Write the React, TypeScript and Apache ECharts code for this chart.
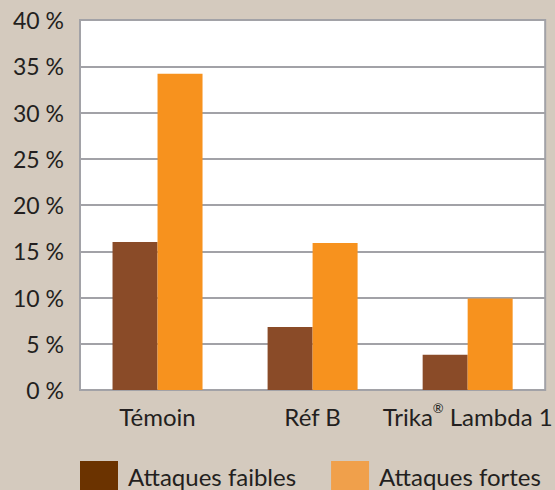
import React, { useEffect, useRef } from "react";
import * as echarts from "echarts";

const categories = ["Témoin", "Réf B", "Trika® Lambda 1"];
const faibles = [16, 6.8, 3.8];
const fortes = [34.2, 15.9, 9.9];
const seriesNames = ["Attaques faibles", "Attaques fortes"];
const yTicks = { min: 0, max: 40, interval: 5 };

const FONT = "Lato, 'Open Sans', sans-serif";
const TEXT = "#231f20";

export default function App() {
  const ref = useRef<HTMLDivElement>(null);
  useEffect(() => {
    if (!ref.current) return;
    const chart = echarts.init(ref.current, null, { renderer: "svg" });
    chart.setOption({
      animation: false,
      backgroundColor: "#d4cabe",
      textStyle: { fontFamily: FONT, color: TEXT },
      grid: {
        left: 80,
        top: 20,
        right: 6,
        bottom: 100,
        show: true,
        backgroundColor: "#ffffff",
        borderColor: "#a2a2a7",
        borderWidth: 2,
      },
      legend: {
        left: 80,
        top: 461,
        padding: 0,
        icon: "rect",
        itemWidth: 38,
        itemHeight: 30,
        itemGap: 35,
        textStyle: { fontSize: 24, color: TEXT, fontFamily: FONT, padding: [0, 0, 0, 5] },
        data: [
          { name: seriesNames[0], itemStyle: { color: "#6b3300" } },
          { name: seriesNames[1], itemStyle: { color: "#f0a04b" } },
        ],
      },
      xAxis: {
        type: "category",
        data: categories,
        axisLine: { show: false },
        axisTick: { show: false },
        axisLabel: {
          margin: 10,
          color: TEXT,
          fontSize: 24,
          fontFamily: FONT,
          interval: 0,
          formatter: (v: string) => {
            if (v.includes("®")) {
              const [a, b] = v.split("®");
              return `{a|${a}}{sup|®}{a|${b}}`;
            }
            return `{a|${v}}`;
          },
          rich: {
            a: { fontSize: 24, fontFamily: FONT, color: TEXT, lineHeight: 28, verticalAlign: "bottom" },
            sup: { fontSize: 13, fontFamily: FONT, color: TEXT, lineHeight: 28, verticalAlign: "top", padding: [1, 0, 0, 0] },
          },
        },
      },
      yAxis: {
        type: "value",
        min: yTicks.min,
        max: yTicks.max,
        interval: yTicks.interval,
        axisLine: { show: false },
        axisTick: { show: false },
        axisLabel: {
          margin: 16,
          color: TEXT,
          fontSize: 23,
          fontFamily: FONT,
          formatter: "{value} %",
        },
        splitLine: { lineStyle: { color: "#a2a2a7", width: 2 } },
      },
      series: [
        {
          name: seriesNames[0],
          type: "bar",
          data: faibles,
          barWidth: 45,
          barGap: "0%",
          itemStyle: { color: "#8a4b28" },
        },
        {
          name: seriesNames[1],
          type: "bar",
          data: fortes,
          barWidth: 45,
          barGap: "0%",
          itemStyle: { color: "#f7921e" },
        },
      ],
    });
    return () => chart.dispose();
  }, []);
  return (
    <div
      ref={ref}
      style={{ position: "fixed", left: 0, top: 0, width: 555, height: 490 }}
    />
  );
}
